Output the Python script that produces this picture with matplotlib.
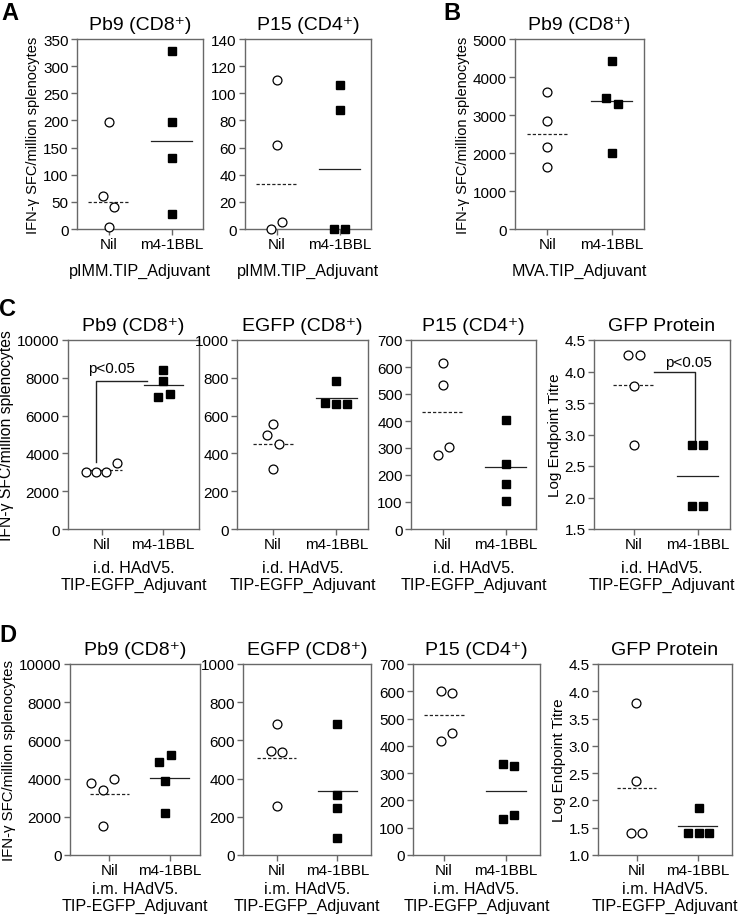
import numpy as np
import matplotlib
matplotlib.use("Agg")
import matplotlib.pyplot as plt

plt.rcParams['font.family'] = ['Liberation Sans', 'DejaVu Sans']

#%% values
groups = ["Nil", "m4-1BBL"]

# panel A
a1_nil = [198, 60, 40, 3]
a1_m4 = [327, 197, 130, 27]
a1_lines = [50, 163]
a2_nil = [110, 62, 5, 0]
a2_m4 = [106, 88, 0, 0]
a2_lines = [33, 44]
# panel B
b_nil = [3600, 2850, 2170, 1620]
b_m4 = [4420, 3450, 3300, 2000]
b_lines = [2500, 3375]
# panel C (i.d.)
c1_nil = [3030, 2990, 3030, 3490]
c1_m4 = [8415, 7835, 7165, 6990]
c1_lines = [3130, 7600]
c2_nil = [555, 497, 452, 315]
c2_m4 = [783, 669, 660, 660]
c2_lines = [452, 692]
c3_nil = [616, 535, 305, 273]
c3_m4 = [403, 242, 168, 104]
c3_lines = [432, 230]
c4_nil = [4.26, 4.26, 3.77, 2.83]
c4_m4 = [2.83, 2.83, 1.87, 1.87]
c4_lines = [3.78, 2.34]
# panel D (i.m.)
d1_nil = [3770, 3420, 3980, 1536]
d1_m4 = [5236, 4887, 3857, 2181]
d1_lines = [3194, 4031]
d2_nil = [688, 545, 541, 258]
d2_m4 = [688, 314, 246, 91]
d2_lines = [508, 333]
d3_nil = [602, 594, 417, 446]
d3_m4 = [333, 326, 131, 147]
d3_lines = [512, 233]
d4_nil = [3.79, 2.35, 1.40, 1.40]
d4_m4 = [1.87, 1.40, 1.40, 1.40]
d4_lines = [2.23, 1.525]

SPINE = '#686868'
W, H = 740, 920


def px_rect(l, t, r, b):
    return [l / W, 1 - b / H, (r - l) / W, (b - t) / H]


def panel(rect, title, nil, m4, lines, nil_dx, m4_dx, yticks, xlabel,
          ylabel=None, xlim=(-0.5, 1.5), fmt='{:g}', ysize=10.8, xpad=6):
    ax = fig.add_axes(px_rect(*rect))
    ax.plot(np.array(nil_dx), nil, 'o', mfc='white', mec='black', ms=6.4,
            mew=0.9, clip_on=False, zorder=3)
    ax.plot(1 + np.array(m4_dx), m4, 's', mfc='black', mec='black', ms=5.8,
            clip_on=False, zorder=3)
    ax.plot([-0.32, 0.32], [lines[0]] * 2, color='#222222', lw=0.9,
            ls=(0, (2.6, 1.6)), zorder=2)
    ax.plot([0.68, 1.32], [lines[1]] * 2, color='#222222', lw=0.9, zorder=2)
    ax.set_xlim(*xlim)
    ax.set_ylim(yticks[0], yticks[-1])
    ax.set_yticks(yticks)
    ax.set_yticklabels([fmt.format(v) for v in yticks])
    ax.set_xticks([0, 1])
    ax.set_xticklabels(groups)
    for s in ax.spines.values():
        s.set_color(SPINE)
        s.set_linewidth(1.0)
    ax.tick_params(axis='both', direction='out', length=4, width=1.0,
                   color=SPINE, labelsize=11, pad=2)
    ax.set_title(title, fontsize=14, pad=7)
    ax.set_xlabel(xlabel, fontsize=11.6, labelpad=xpad, linespacing=1.15)
    if ylabel:
        ax.set_ylabel(ylabel, fontsize=ysize, labelpad=2)
    return ax


fig = plt.figure(figsize=(7.4, 9.2), dpi=100)

ifn = "IFN-γ SFC/million splenocytes"
titre = "Log Endpoint Titre"
id_lab = "i.d. HAdV5.\nTIP-EGFP_Adjuvant"
im_lab = "i.m. HAdV5.\nTIP-EGFP_Adjuvant"

# row A / B
panel((77, 40, 203, 230), "Pb9 (CD8⁺)", a1_nil, a1_m4, a1_lines,
      [0, -0.09, 0.09, 0], [0, 0, 0, 0], np.arange(0, 351, 50),
      "pIMM.TIP_Adjuvant", ifn, ysize=10.5, xpad=8)
panel((245, 40, 371, 230), "P15 (CD4⁺)", a2_nil, a2_m4, a2_lines,
      [0, 0, 0.09, -0.09], [0, 0, -0.08, 0.09], np.arange(0, 141, 20),
      "pIMM.TIP_Adjuvant", xpad=8)
panel((515, 40, 644, 230), "Pb9 (CD8⁺)", b_nil, b_m4, b_lines,
      [0, 0, 0, 0], [0, -0.09, 0.09, 0], np.arange(0, 5001, 1000),
      "MVA.TIP_Adjuvant", ifn, ysize=10.5, xpad=8)

# row C
ax = panel((68, 341, 199, 530), "Pb9 (CD8⁺)", c1_nil, c1_m4, c1_lines,
           [-0.27, -0.1, 0.07, 0.24], [0, 0, 0.11, -0.08],
           np.arange(0, 10001, 2000), id_lab, ifn, xlim=(-0.56, 1.59),
           ysize=11.3)
ax.plot([-0.1, -0.1, 0.74], [3550, 7815, 7815], color='#222222', lw=1.0)
ax.text(0.16, 8150, "p<0.05", ha='center', va='bottom', fontsize=11)
panel((237, 341, 368, 530), "EGFP (CD8⁺)", c2_nil, c2_m4, c2_lines,
      [0, -0.1, 0.1, 0], [0, -0.18, 0, 0.17], np.arange(0, 1001, 200),
      id_lab, xlim=(-0.57, 1.5))
panel((411, 341, 536, 530), "P15 (CD4⁺)", c3_nil, c3_m4, c3_lines,
      [0, 0, 0.1, -0.08], [0, 0, 0, 0], np.arange(0, 701, 100),
      id_lab, xlim=(-0.5, 1.48))
ax = panel((594, 341, 730, 530), "GFP Protein", c4_nil, c4_m4, c4_lines,
           [-0.09, 0.09, 0, 0], [-0.09, 0.08, -0.09, 0.08],
           np.arange(1.5, 4.51, 0.5), id_lab, titre, xlim=(-0.62, 1.5),
           fmt='{:.1f}', ysize=11)
ax.plot([0.32, 0.96, 0.96], [4.0, 4.0, 2.9], color='#222222', lw=1.0)
ax.text(0.86, 4.04, "p<0.05", ha='center', va='bottom', fontsize=11)

# row D
panel((70, 665, 200, 856), "Pb9 (CD8⁺)", d1_nil, d1_m4, d1_lines,
      [-0.3, -0.11, 0.08, -0.11], [0.02, -0.17, -0.08, -0.08],
      np.arange(0, 10001, 2000), im_lab, ifn, xlim=(-0.65, 1.5), xpad=3)
panel((243, 665, 371, 856), "EGFP (CD8⁺)", d2_nil, d2_m4, d2_lines,
      [0, -0.09, 0.09, 0], [0, 0, 0, 0], np.arange(0, 1001, 200),
      im_lab, xlim=(-0.55, 1.55), xpad=3)
panel((413, 665, 540, 856), "P15 (CD4⁺)", d3_nil, d3_m4, d3_lines,
      [-0.05, 0.13, -0.05, 0.13], [-0.05, 0.13, -0.05, 0.13],
      np.arange(0, 701, 100), im_lab, xlim=(-0.5, 1.55), xpad=3)
panel((598, 665, 732, 856), "GFP Protein", d4_nil, d4_m4, d4_lines,
      [-0.02, -0.02, -0.1, 0.08], [0.01, -0.17, 0.01, 0.18],
      np.arange(1.0, 4.51, 0.5), im_lab, titre, xlim=(-0.64, 1.56),
      fmt='{:.1f}', ysize=11, xpad=3)

# panel letters
for letter, x, y in [("A", 10, 13), ("B", 452, 13), ("C", 8, 310), ("D", 8, 636)]:
    fig.text(x / W, 1 - y / H, letter, fontsize=17, fontweight='bold',
             ha='center', va='center')

fig.savefig("out.png", dpi=100)
